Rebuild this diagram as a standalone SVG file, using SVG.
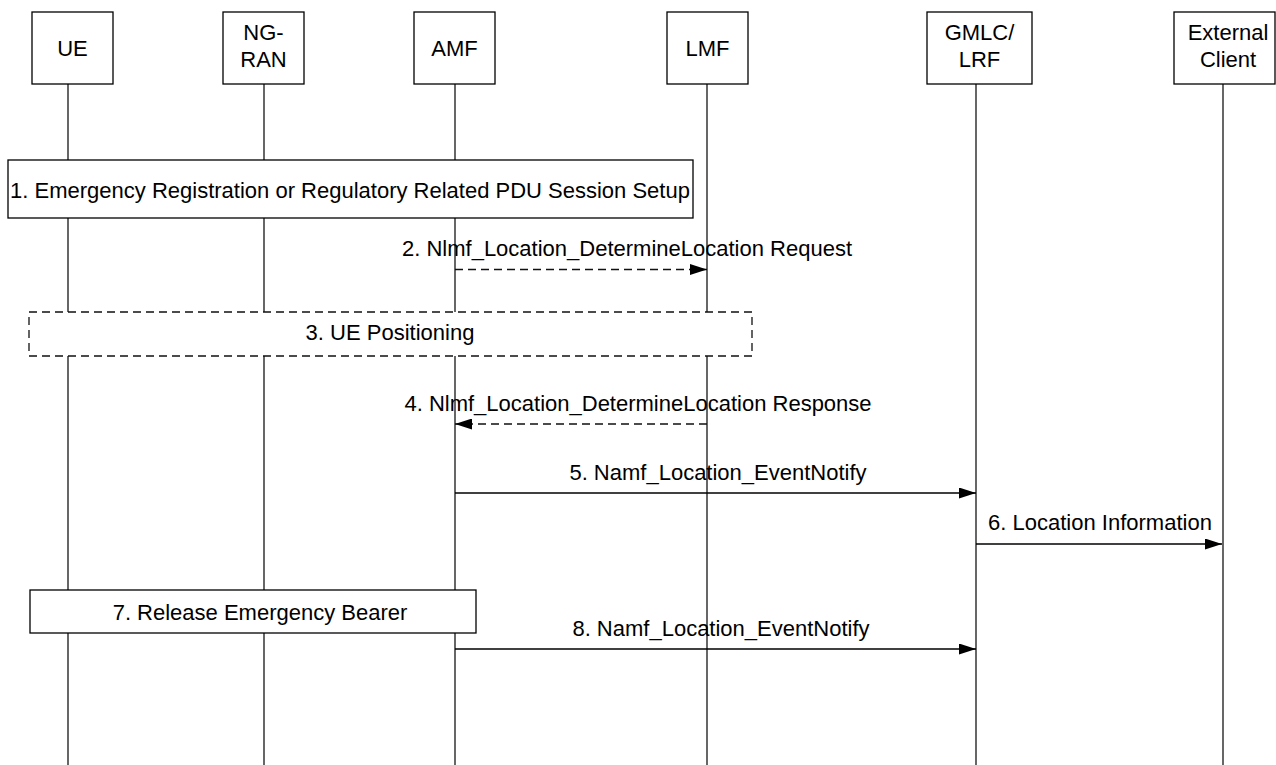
<svg xmlns="http://www.w3.org/2000/svg" width="1276" height="765" viewBox="0 0 1276 765">
<style>
text{font-family:"Liberation Sans",Arial,sans-serif;font-size:22px;fill:#000}
.c{text-anchor:middle}
.box{fill:#fff;stroke:#000;stroke-width:1.3}
.dbox{fill:#fff;stroke:#111;stroke-width:1.3;stroke-dasharray:8 5}
.life{stroke:#000;stroke-width:1.2;fill:none}
.msg{stroke:#000;stroke-width:1.3;fill:none}
.dmsg{stroke:#111;stroke-width:1.3;fill:none;stroke-dasharray:8 5}
</style>
<defs>
<marker id="ah" markerWidth="17" markerHeight="11" refX="17" refY="5.5" orient="auto" markerUnits="userSpaceOnUse">
<path d="M0,0 L17,5.5 L0,11 Z" fill="#000"/>
</marker>
</defs>
<rect width="1276" height="765" fill="#fff"/>
<g id="lifelines">
<line class="life" x1="68" y1="84" x2="68" y2="765"/>
<line class="life" x1="264" y1="84" x2="264" y2="765"/>
<line class="life" x1="455" y1="84" x2="455" y2="765"/>
<line class="life" x1="707" y1="84" x2="707" y2="765"/>
<line class="life" x1="976" y1="84" x2="976" y2="765"/>
<line class="life" x1="1223" y1="84" x2="1223" y2="765"/>
</g>
<g id="ue"><rect class="box" x="32" y="12" width="81" height="72"/><text class="c" x="72.5" y="56">UE</text></g>
<g id="ngran"><rect class="box" x="223" y="12" width="81" height="72"/><text class="c" x="263.5" y="40">NG-</text><text class="c" x="263.5" y="66.5">RAN</text></g>
<g id="amf"><rect class="box" x="414" y="12" width="81" height="72"/><text class="c" x="454.5" y="56">AMF</text></g>
<g id="lmf"><rect class="box" x="667" y="12" width="81" height="72"/><text class="c" x="707.5" y="56">LMF</text></g>
<g id="gmlc"><rect class="box" x="927" y="12" width="105" height="72"/><text class="c" x="979.5" y="40">GMLC/</text><text class="c" x="979.5" y="66.5">LRF</text></g>
<g id="ext"><rect class="box" x="1174" y="12" width="101" height="72"/><text class="c" x="1228" y="40">External</text><text class="c" x="1228" y="66.5">Client</text></g>
<g id="step1"><rect class="box" x="8" y="160" width="685" height="58"/><text class="c" x="350" y="198">1. Emergency Registration or Regulatory Related PDU Session Setup</text></g>
<g id="step3"><rect class="dbox" x="29" y="312" width="723" height="44"/><text class="c" x="390" y="340">3. UE Positioning</text></g>
<g id="step7"><rect class="box" x="30" y="590" width="446" height="43"/><text class="c" x="260" y="619.5">7. Release Emergency Bearer</text></g>
<g id="connectors">
<line class="dmsg" x1="455" y1="269.5" x2="707" y2="269.5" marker-end="url(#ah)"/>
<text class="c" x="627" y="256">2. Nlmf_Location_DetermineLocation Request</text>
<line class="dmsg" x1="707" y1="424" x2="455" y2="424" marker-end="url(#ah)"/>
<text class="c" x="638" y="411">4. Nlmf_Location_DetermineLocation Response</text>
<line class="msg" x1="455" y1="493" x2="976" y2="493" marker-end="url(#ah)"/>
<text class="c" x="718" y="480">5. Namf_Location_EventNotify</text>
<line class="msg" x1="976" y1="544" x2="1222" y2="544" marker-end="url(#ah)"/>
<text class="c" x="1100" y="530">6. Location Information</text>
<line class="msg" x1="455" y1="649" x2="976" y2="649" marker-end="url(#ah)"/>
<text class="c" x="721" y="636">8. Namf_Location_EventNotify</text>
</g>
</svg>
